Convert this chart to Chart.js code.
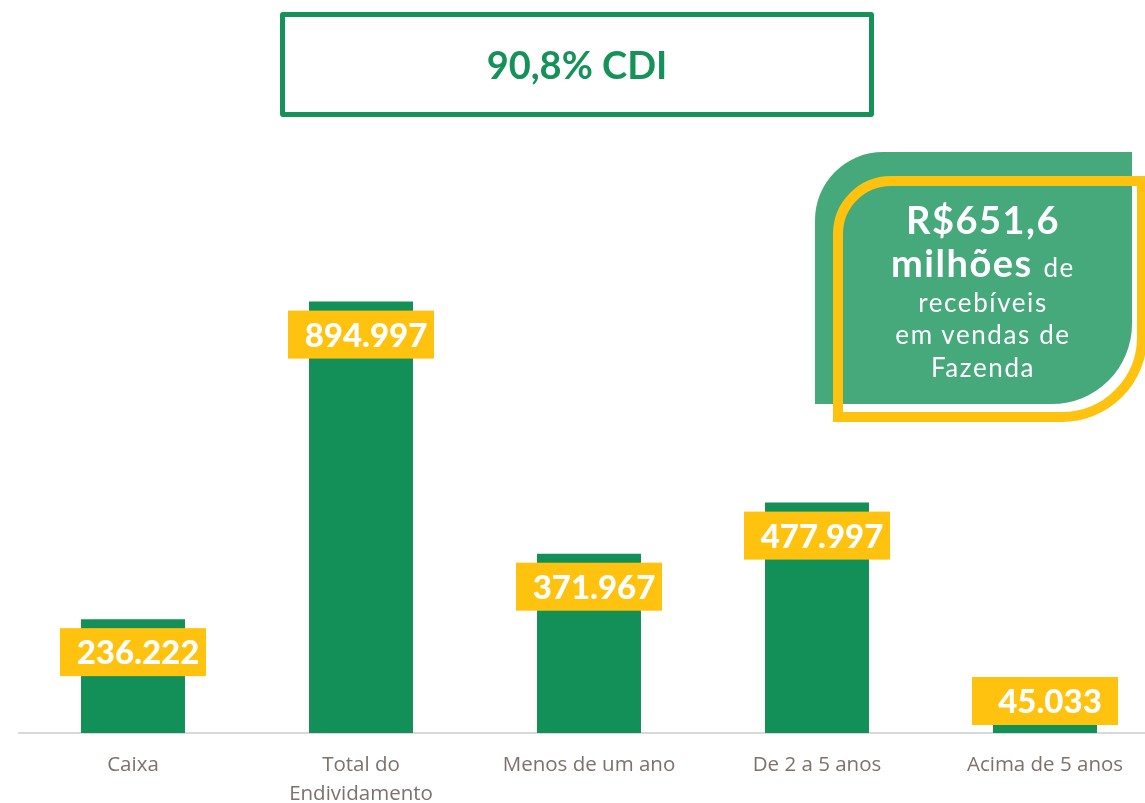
<!DOCTYPE html>
<html>
<head>
<meta charset="utf-8">
<script src="https://cdn.jsdelivr.net/npm/chart.js@4"></script>
<style>
  html, body { margin: 0; padding: 0; background: #fff; overflow: hidden; }
  body { width: 1145px; height: 803px; position: relative; font-family: Lato, sans-serif; }
  #wrap { position: absolute; left: 0; top: 0; width: 1180px; height: 803px; }
  .title-box {
    position: absolute; left: 280px; top: 12px; width: 594px; height: 105px;
    box-sizing: border-box; border: 5px solid #14925A; border-radius: 3px;
  }
  .title-box span {
    position: absolute; left: 0; right: 0; top: 25px; text-align: center;
    font: bold 38px/1.2 Lato, sans-serif; color: #14925A;
  }
  .badge-bg {
    position: absolute; left: 815px; top: 152px; width: 317px; height: 252px;
    background: #46A97C; border-radius: 68px 0 80px 0;
  }
  .badge-ring {
    position: absolute; left: 833px; top: 176px; width: 314px; height: 246px;
    box-sizing: border-box; border: 10px solid #FFC20E; border-radius: 58px 0 85px 0;
  }
  .badge-line {
    position: absolute; left: 833px; width: 300px; text-align: center;
    color: #fff; font-family: Lato, sans-serif; line-height: 1.2; white-space: nowrap;
  }
  .big { font-size: 38px; font-weight: bold; letter-spacing: 1.5px; }
  .small { font-size: 26px; font-weight: normal; letter-spacing: 1.6px; }
</style>
</head>
<body>
<div id="wrap"><canvas id="chart" width="1180" height="803"></canvas></div>

<div class="title-box"><span>90,8% CDI</span></div>

<div class="badge-bg"></div>
<div class="badge-ring"></div>
<div class="badge-line big" style="top:197px">R$651,6</div>
<div class="badge-line big" style="top:240px">milhões <span class="small">de</span></div>
<div class="badge-line small" style="top:287px">recebíveis</div>
<div class="badge-line small" style="top:319px">em vendas de</div>
<div class="badge-line small" style="top:352px">Fazenda</div>

<script>
const categories = ['Caixa', ['Total do', 'Endividamento'], 'Menos de um ano', 'De 2 a 5 anos', 'Acima de 5 anos'];
const values = [236222, 894997, 371967, 477997, 45033];
const valueLabels = ['236.222', '894.997', '371.967', '477.997', '45.033'];

const barLabels = {
  id: 'barLabels',
  afterDatasetsDraw(chart) {
    const ctx = chart.ctx;
    const meta = chart.getDatasetMeta(0);
    const base = chart.chartArea.bottom;
    ctx.save();
    meta.data.forEach((bar, i) => {
      const w = 146, h = 48;
      const top = Math.min(bar.y + 9, base - 56);
      ctx.fillStyle = '#FFC20E';
      ctx.fillRect(bar.x - w / 2, top, w, h);
      ctx.fillStyle = '#fff';
      ctx.font = '900 33px Lato, sans-serif';
      ctx.textAlign = 'center';
      ctx.textBaseline = 'alphabetic';
      ctx.fillText(valueLabels[i], bar.x + 5, top + 36);
    });
    ctx.restore();
  }
};

new Chart(document.getElementById('chart'), {
  type: 'bar',
  data: {
    labels: categories,
    datasets: [{
      data: values,
      backgroundColor: '#138F58',
      categoryPercentage: 1,
      barPercentage: 0.456
    }]
  },
  options: {
    responsive: false,
    animation: false,
    layout: { padding: { left: 19, right: 21, top: 251, bottom: 0 } },
    scales: {
      x: {
        grid: { display: false, drawTicks: false },
        border: { display: true, color: '#D9D9D9', width: 2 },
        ticks: {
          color: '#7D716E',
          font: { family: 'Open Sans', size: 20.5, lineHeight: 1.4 },
          padding: 18,
          maxRotation: 0,
          autoSkip: false
        },
        afterFit(scale) { scale.height = 70; }
      },
      y: { display: false, min: 0, max: 1000000 }
    },
    plugins: {
      legend: { display: false },
      tooltip: { enabled: false }
    }
  },
  plugins: [barLabels]
});
</script>
</body>
</html>
